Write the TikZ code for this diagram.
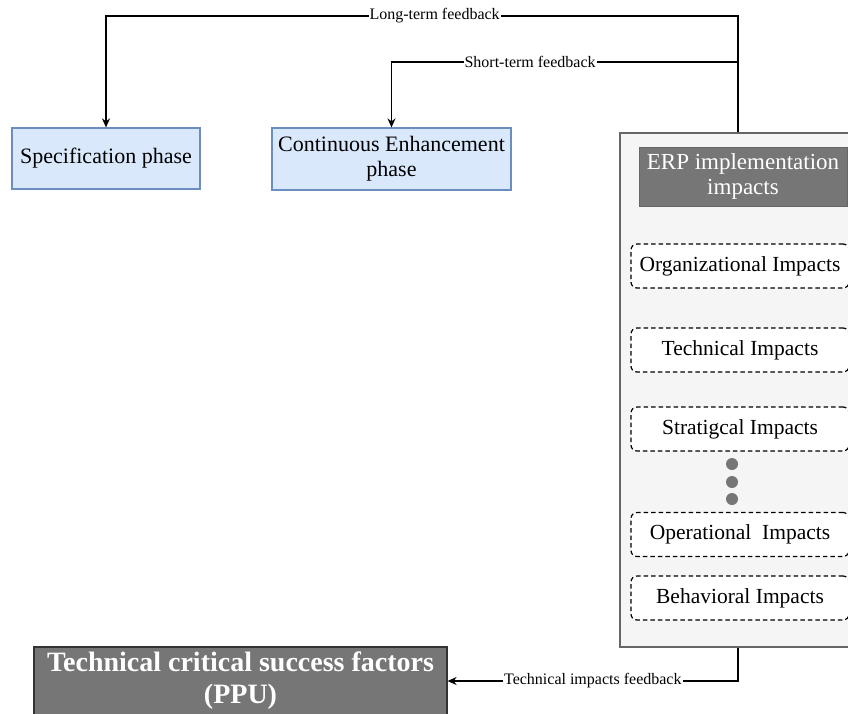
\documentclass[tikz,border=0pt]{standalone}
\usepackage{fontspec}
\setmainfont{Liberation Serif}
\usetikzlibrary{arrows.meta}
\definecolor{phasefill}{HTML}{DAE8FC}
\definecolor{phaseline}{HTML}{6C8EBF}
\definecolor{panelfill}{HTML}{F5F5F5}
\definecolor{panelline}{HTML}{666666}
\definecolor{darkgrey}{HTML}{767676}
\tikzset{
  phase/.style={draw=phaseline, fill=phasefill, line width=1.2pt, align=center,
    inner sep=2pt, font=\fontsize{22}{25}\selectfont},
  impact/.style={draw=black, fill=white, dashed, dash pattern=on 4.5pt off 3pt,
    rounded corners=6pt, line width=1.2pt, minimum width=218pt, minimum height=44pt,
    inner sep=1pt, font=\fontsize{21.5}{24}\selectfont},
  fb/.style={draw=black, line width=1.4pt, -{Stealth[length=9pt,width=8pt]}},
  lbl/.style={fill=white, inner sep=1pt, font=\fontsize{16}{18}\selectfont},
  dot/.style={circle, fill=darkgrey, minimum size=12pt, inner sep=0pt},
}
\begin{document}
\begin{tikzpicture}[x=1pt, y=-1pt]
\useasboundingbox (0,0) rectangle (848,713);

% phases fed back into
\node[phase, minimum width=188pt, minimum height=61pt] (spec) at (106,158.5) {Specification phase};
\node[phase, minimum width=239pt, minimum height=62pt] (cont) at (391.5,159) {Continuous Enhancement\\phase};

% impact panel
\node[draw=panelline, fill=panelfill, line width=1.4pt, minimum width=236pt,
  minimum height=514pt, inner sep=0pt] (panel) at (738,390) {};
\node[draw=panelline, fill=darkgrey, text=white, line width=1pt, minimum width=208pt,
  minimum height=59pt, inner sep=1pt, align=center,
  font=\fontsize{23}{25.5}\selectfont] (erp) at (743,176.5) {ERP implementation\\impacts};

\node[impact] (org) at (740,266) {Organizational Impacts};
\node[impact] (tech) at (740,350) {Technical Impacts};
\node[impact] (strat) at (740,429) {Stratigcal Impacts};
\node[dot] (d1) at (732,464) {};
\node[dot] (d2) at (732,482) {};
\node[dot] (d3) at (732,499) {};
\node[impact] (oper) at (740,534.5) {Operational\ \ Impacts};
\node[impact] (behav) at (740,598) {Behavioral Impacts};

% success factors
\node[draw=black!80, fill=darkgrey, text=white, line width=1.2pt, minimum width=413pt,
  minimum height=68pt, inner sep=1pt, align=center,
  font=\bfseries\fontsize{28}{32}\selectfont] (ppu) at (240.5,681) {Technical critical success factors\\(PPU)};

% feedback loops
\draw[fb] (panel.north) -- (panel.north |- 0,16) -| node[pos=0.24, lbl] {Long-term feedback} (spec.north);
\draw[fb] (panel.north) -- (panel.north |- 0,62) -| node[pos=0.30, lbl] {Short-term feedback} (cont.north);
\draw[fb] (panel.south) |- node[pos=0.75, lbl] {Technical impacts feedback} (ppu.east);
\end{tikzpicture}
\end{document}
